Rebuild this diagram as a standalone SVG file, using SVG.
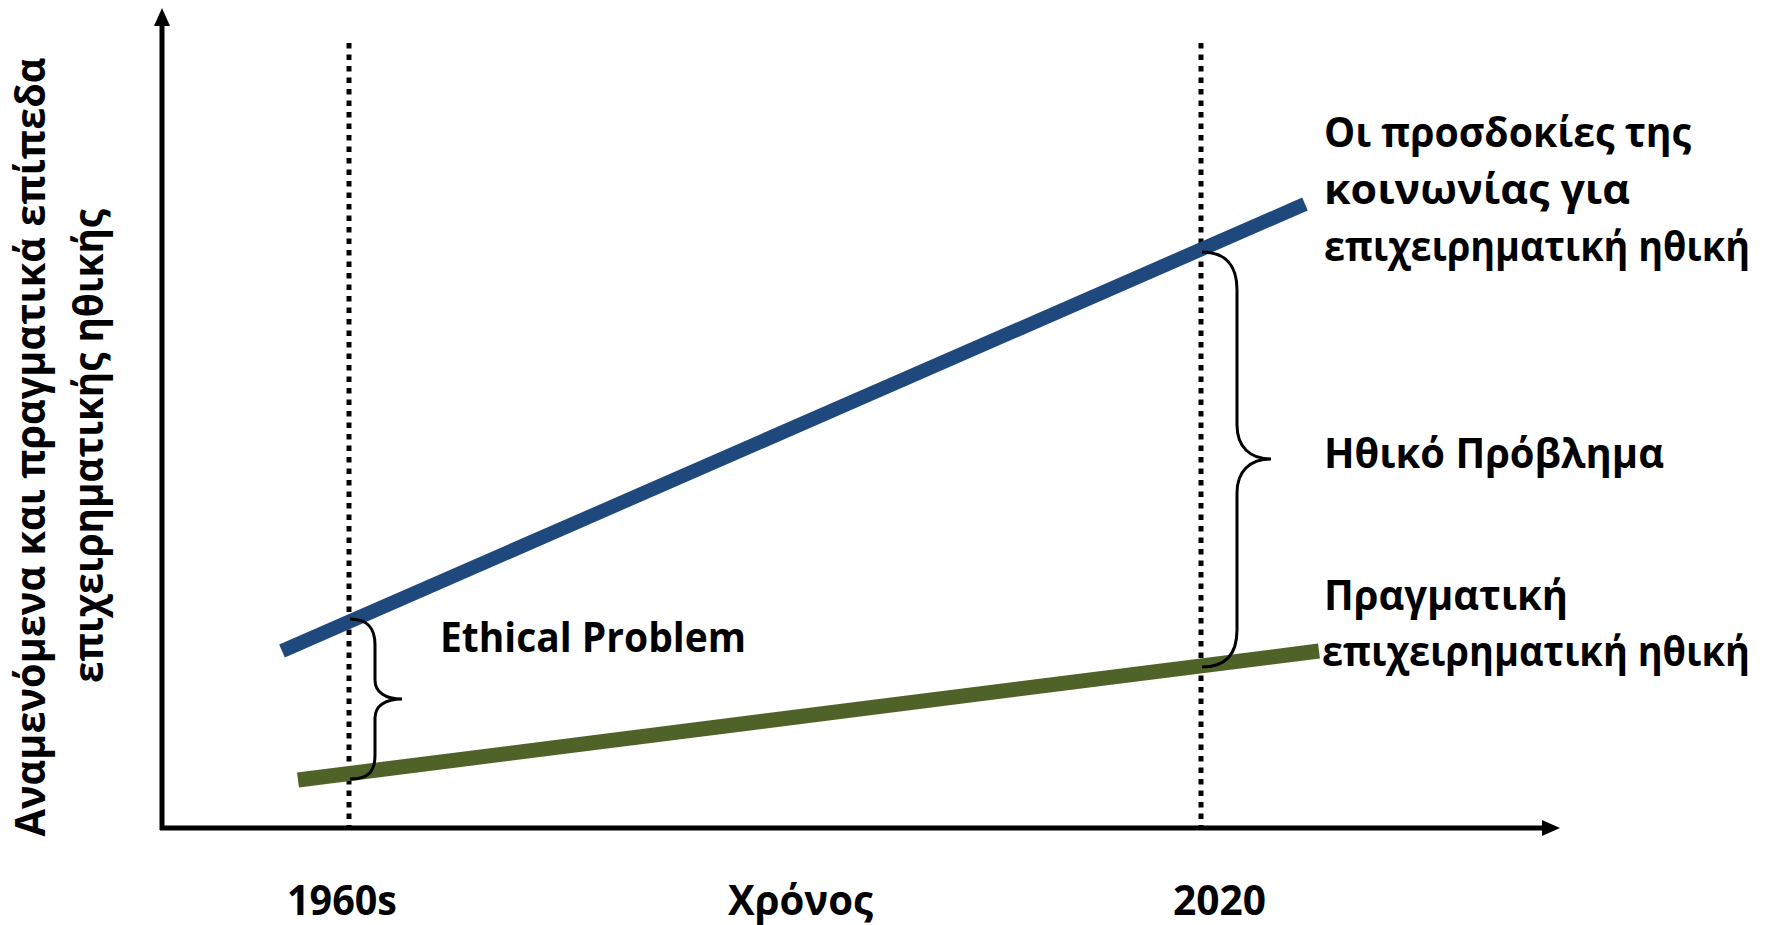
<svg xmlns="http://www.w3.org/2000/svg" width="1771" height="925" viewBox="0 0 1771 925">
<style>
text{font-family:"Open Sans","Noto Sans","DejaVu Sans",sans-serif;font-weight:bold;font-size:42px;fill:#000}
.axis{stroke:#000;stroke-width:5;fill:none}
.dot{stroke:#000;stroke-width:5;stroke-dasharray:5.5 6;fill:none}
.brace{stroke:#000;stroke-width:3;fill:none}
</style>
<defs>
<marker id="ah" markerUnits="userSpaceOnUse" markerWidth="20" markerHeight="18" refX="0" refY="9" orient="auto">
<polygon points="0,1 18,9 0,17" fill="#000"/>
</marker>
</defs>
<rect width="1771" height="925" fill="#fff"/>
<g id="connectors">
<line class="axis" x1="162" y1="830" x2="162" y2="26" marker-end="url(#ah)"/>
<line class="axis" x1="160" y1="828" x2="1542" y2="828" marker-end="url(#ah)"/>
<line class="dot" x1="349" y1="43" x2="349" y2="828"/>
<line class="dot" x1="1201" y1="43" x2="1201" y2="828"/>
<line x1="282" y1="651" x2="1305" y2="204" stroke="#1F497D" stroke-width="14"/>
<line x1="298" y1="780" x2="1319" y2="651" stroke="#4F6228" stroke-width="15"/>
<path class="brace" d="M350,619 C368,619 375,628 375,645 L375,680 C375,692 385,699 402,699 C385,699 375,706 375,718 L375,755 C375,772 368,779 350,779"/>
<path class="brace" d="M1202,252 C1225,252 1237,265 1237,290 L1237,425 C1237,447 1250,459 1271,459 C1250,459 1237,471 1237,493 L1237,630 C1237,655 1225,667 1202,667"/>
</g>
<g id="ylabel">
<text transform="translate(45,447) rotate(-90)" text-anchor="middle" textLength="779" lengthAdjust="spacingAndGlyphs">Αναμενόμενα και πραγματικά επίπεδα</text>
<text transform="translate(103,446) rotate(-90)" text-anchor="middle" textLength="474" lengthAdjust="spacingAndGlyphs">επιχειρηματικής ηθικής</text>
</g>
<g id="expectations">
<text x="1324" y="147" textLength="367" lengthAdjust="spacingAndGlyphs">Οι προσδοκίες της</text>
<text x="1324" y="204" textLength="306" lengthAdjust="spacingAndGlyphs">κοινωνίας για</text>
<text x="1324" y="261" textLength="426" lengthAdjust="spacingAndGlyphs">επιχειρηματική ηθική</text>
</g>
<g id="ethical-problem-gr">
<text x="1324" y="468" textLength="340" lengthAdjust="spacingAndGlyphs">Ηθικό Πρόβλημα</text>
</g>
<g id="actual">
<text x="1324" y="610" textLength="244" lengthAdjust="spacingAndGlyphs">Πραγματική</text>
<text x="1322" y="666" textLength="428" lengthAdjust="spacingAndGlyphs">επιχειρηματική ηθική</text>
</g>
<g id="ethical-problem">
<text x="440" y="652" textLength="306" lengthAdjust="spacingAndGlyphs">Ethical Problem</text>
</g>
<g id="xlabels">
<text x="287" y="915" textLength="110" lengthAdjust="spacingAndGlyphs">1960s</text>
<text x="728" y="915" textLength="145" lengthAdjust="spacingAndGlyphs">Χρόνος</text>
<text x="1173" y="915" textLength="93" lengthAdjust="spacingAndGlyphs">2020</text>
</g>
</svg>
